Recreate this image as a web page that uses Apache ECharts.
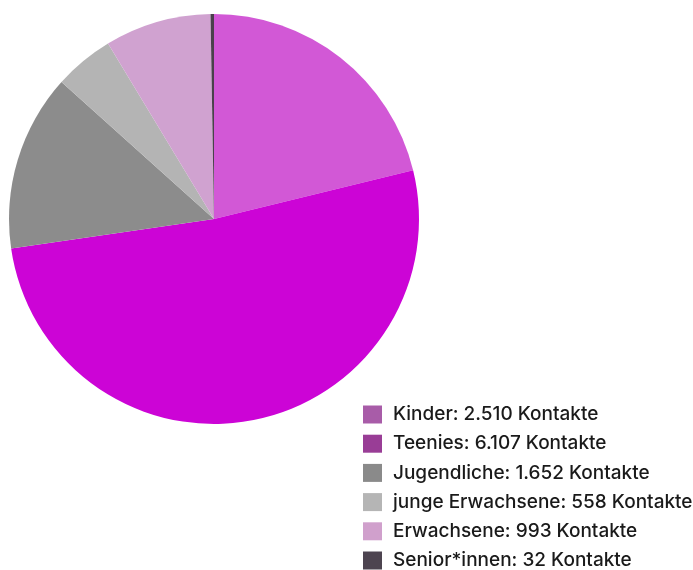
<!DOCTYPE html>
<html><head><meta charset="utf-8">
<script src="https://cdn.jsdelivr.net/npm/echarts@6/dist/echarts.min.js"></script>
<style>html,body{margin:0;padding:0;background:#fff}#c{width:693px;height:570px}</style>
</head><body><div id="c"></div>
<script>
const categories = ["Kinder", "Teenies", "Jugendliche", "junge Erwachsene", "Erwachsene", "Senior*innen"];
const values = [2510, 6107, 1652, 558, 993, 32];
const labels = ["Kinder: 2.510 Kontakte", "Teenies: 6.107 Kontakte", "Jugendliche: 1.652 Kontakte", "junge Erwachsene: 558 Kontakte", "Erwachsene: 993 Kontakte", "Senior*innen: 32 Kontakte"];
const sliceColors = ["#d258d6", "#cc04d6", "#8c8c8c", "#b4b4b4", "#d0a2d0", "#4a404c"];
const legendColors = ["#a85ca8", "#993d96", "#8a8a8a", "#b5b5b5", "#d0a0cc", "#4d4450"];

const chart = echarts.init(document.getElementById('c'));
chart.setOption({
  animation: false,
  legend: {
    orient: 'vertical', left: 358, top: 400, height: 250, width: 340,
    itemWidth: 19, itemHeight: 18, itemGap: 10.2,
    icon: 'rect',
    textStyle: {fontFamily: 'Inter', fontSize: 19, fontWeight: 500, color: '#1a1a1a', padding: [0, 0, 0, 6], lineHeight: 19},
    data: labels.map((l, i) => ({name: l, itemStyle: {color: legendColors[i]}})),
    selectedMode: false
  },
  series: [{
    type: 'pie', center: [214, 219], radius: 205, startAngle: 90, clockwise: true,
    label: {show: false}, labelLine: {show: false},
    itemStyle: {borderWidth: 0},
    emphasis: {disabled: true},
    data: categories.map((c, i) => ({name: labels[i], value: values[i], itemStyle: {color: sliceColors[i]}}))
  }]
});
</script></body></html>
